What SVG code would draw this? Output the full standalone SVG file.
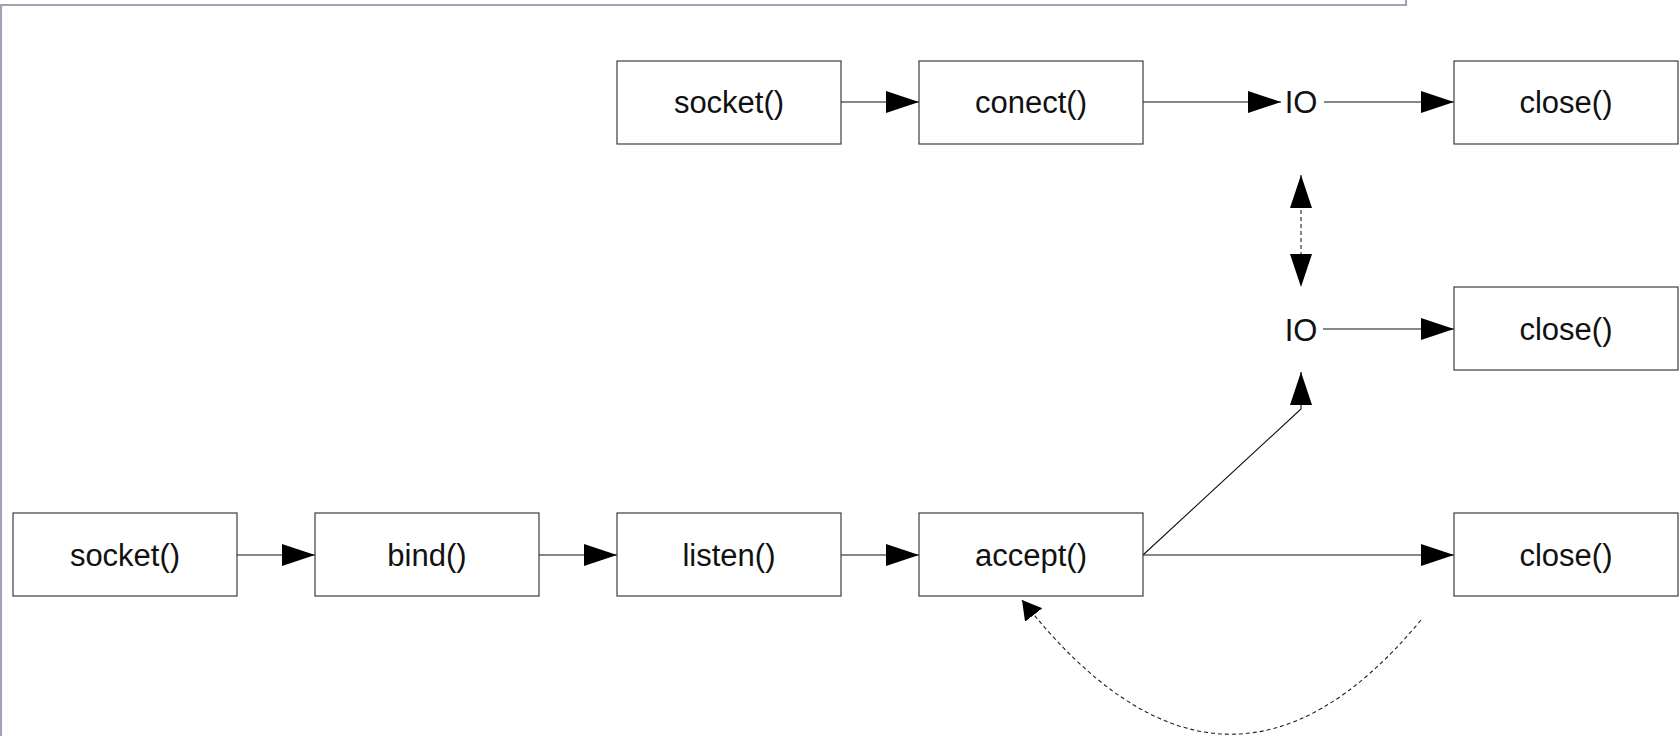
<svg xmlns="http://www.w3.org/2000/svg" width="1679" height="736" viewBox="0 0 1679 736">
  <style>
    .box { fill: #ffffff; stroke: #3c3c3c; stroke-width: 1.2; }
    .lbl { font-family: "Liberation Sans", Arial, sans-serif; font-size: 31px; fill: #111111; text-anchor: middle; }
    .edge { fill: none; stroke: #111111; stroke-width: 1.1; }
    .dash { fill: none; stroke: #222222; stroke-width: 1.1; stroke-dasharray: 4 3; }
    .frame { fill: none; stroke: #a0a4b9; stroke-width: 2.2; }
  </style>
  <defs>
    <marker id="arrow" markerUnits="userSpaceOnUse" markerWidth="34" markerHeight="23" refX="33" refY="11" orient="auto-start-reverse">
      <path d="M0,0 L33,11 L0,22 z" fill="#000000"/>
    </marker>
    <marker id="arrowSmall" markerUnits="userSpaceOnUse" markerWidth="20" markerHeight="23" refX="19" refY="11" orient="auto">
      <path d="M0,0 L19,11 L0,22 z" fill="#000000"/>
    </marker>
  </defs>

  <rect width="1679" height="736" fill="#ffffff"/>

  <!-- window frame -->
  <polyline class="frame" points="1406,0 1406,5 1,5 1,736"/>

  <!-- connectors -->
  <g id="connectors">
    <!-- client row -->
    <line class="edge" x1="841" y1="102" x2="919" y2="102" marker-end="url(#arrow)"/>
    <line class="edge" x1="1143" y1="102" x2="1281" y2="102" marker-end="url(#arrow)"/>
    <line class="edge" x1="1324" y1="102" x2="1454" y2="102" marker-end="url(#arrow)"/>
    <!-- client IO <-> server IO -->
    <line class="dash" x1="1301" y1="175" x2="1301" y2="287" marker-start="url(#arrow)" marker-end="url(#arrow)"/>
    <!-- server IO -> close -->
    <line class="edge" x1="1323" y1="329" x2="1454" y2="329" marker-end="url(#arrow)"/>
    <!-- server row -->
    <line class="edge" x1="237" y1="555" x2="315" y2="555" marker-end="url(#arrow)"/>
    <line class="edge" x1="539" y1="555" x2="617" y2="555" marker-end="url(#arrow)"/>
    <line class="edge" x1="841" y1="555" x2="919" y2="555" marker-end="url(#arrow)"/>
    <line class="edge" x1="1143" y1="555" x2="1454" y2="555" marker-end="url(#arrow)"/>
    <!-- accept -> IO -->
    <polyline class="edge" points="1143,555 1301,409 1301,372" marker-end="url(#arrow)"/>
    <!-- loop back to accept -->
    <path class="dash" d="M1421,620 Q1224,858 1022,600" marker-end="url(#arrowSmall)"/>
  </g>

  <!-- client nodes -->
  <g id="client-socket">
    <rect class="box" x="617" y="61" width="224" height="83"/>
    <text class="lbl" x="729" y="113">socket()</text>
  </g>
  <g id="client-connect">
    <rect class="box" x="919" y="61" width="224" height="83"/>
    <text class="lbl" x="1031" y="113">conect()</text>
  </g>
  <g id="client-io">
    <text class="lbl" x="1301" y="113">IO</text>
  </g>
  <g id="client-close">
    <rect class="box" x="1454" y="61" width="224" height="83"/>
    <text class="lbl" x="1566" y="113">close()</text>
  </g>

  <!-- server nodes -->
  <g id="server-io">
    <text class="lbl" x="1301" y="341">IO</text>
  </g>
  <g id="server-io-close">
    <rect class="box" x="1454" y="287" width="224" height="83"/>
    <text class="lbl" x="1566" y="340">close()</text>
  </g>
  <g id="server-socket">
    <rect class="box" x="13" y="513" width="224" height="83"/>
    <text class="lbl" x="125" y="566">socket()</text>
  </g>
  <g id="server-bind">
    <rect class="box" x="315" y="513" width="224" height="83"/>
    <text class="lbl" x="427" y="566">bind()</text>
  </g>
  <g id="server-listen">
    <rect class="box" x="617" y="513" width="224" height="83"/>
    <text class="lbl" x="729" y="566">listen()</text>
  </g>
  <g id="server-accept">
    <rect class="box" x="919" y="513" width="224" height="83"/>
    <text class="lbl" x="1031" y="566">accept()</text>
  </g>
  <g id="server-close">
    <rect class="box" x="1454" y="513" width="224" height="83"/>
    <text class="lbl" x="1566" y="566">close()</text>
  </g>
</svg>
